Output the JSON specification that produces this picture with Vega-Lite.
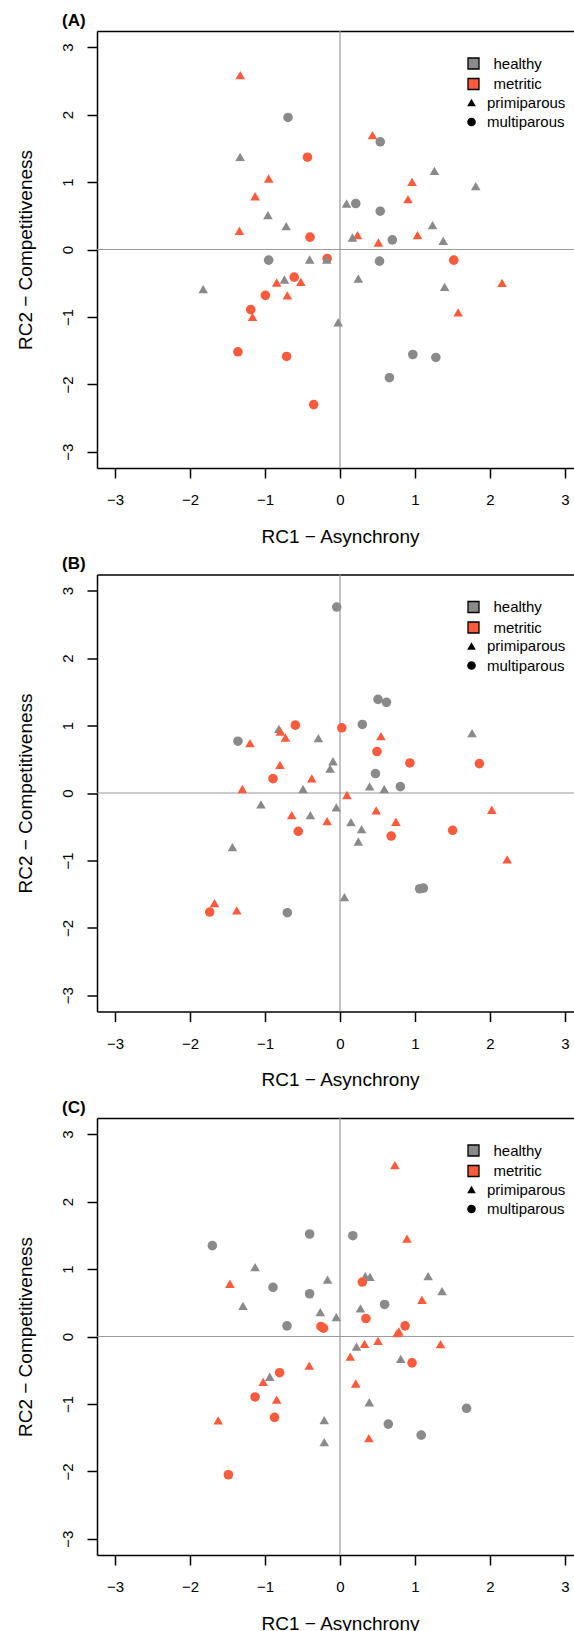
{
  "$schema": "https://vega.github.io/schema/vega-lite/v6.json",
  "background": "white",
  "padding": {"left": 16, "top": 11, "right": 0, "bottom": 0},
  "config": {
    "view": {"stroke": null},
    "font": "Liberation Sans",
    "axis": {"grid": false}
  },
  "datasets": {
    "pts": [
      {"panel":"A","rc1":-1.33,"rc2":2.585,"status":"metritic","parity":"primiparous"},
      {"panel":"A","rc1":0.434,"rc2":1.695,"status":"metritic","parity":"primiparous"},
      {"panel":"A","rc1":-0.951,"rc2":1.053,"status":"metritic","parity":"primiparous"},
      {"panel":"A","rc1":-1.132,"rc2":0.79,"status":"metritic","parity":"primiparous"},
      {"panel":"A","rc1":-1.341,"rc2":0.277,"status":"metritic","parity":"primiparous"},
      {"panel":"A","rc1":0.961,"rc2":1.003,"status":"metritic","parity":"primiparous"},
      {"panel":"A","rc1":0.907,"rc2":0.746,"status":"metritic","parity":"primiparous"},
      {"panel":"A","rc1":0.234,"rc2":0.213,"status":"metritic","parity":"primiparous"},
      {"panel":"A","rc1":0.512,"rc2":0.104,"status":"metritic","parity":"primiparous"},
      {"panel":"A","rc1":1.034,"rc2":0.213,"status":"metritic","parity":"primiparous"},
      {"panel":"A","rc1":-0.844,"rc2":-0.489,"status":"metritic","parity":"primiparous"},
      {"panel":"A","rc1":-0.522,"rc2":-0.48,"status":"metritic","parity":"primiparous"},
      {"panel":"A","rc1":-0.702,"rc2":-0.68,"status":"metritic","parity":"primiparous"},
      {"panel":"A","rc1":2.161,"rc2":-0.494,"status":"metritic","parity":"primiparous"},
      {"panel":"A","rc1":-1.166,"rc2":-1.0,"status":"metritic","parity":"primiparous"},
      {"panel":"A","rc1":1.576,"rc2":-0.931,"status":"metritic","parity":"primiparous"},
      {"panel":"A","rc1":-0.434,"rc2":1.369,"status":"metritic","parity":"multiparous"},
      {"panel":"A","rc1":-0.4,"rc2":0.183,"status":"metritic","parity":"multiparous"},
      {"panel":"A","rc1":-0.171,"rc2":-0.133,"status":"metritic","parity":"multiparous"},
      {"panel":"A","rc1":-0.61,"rc2":-0.41,"status":"metritic","parity":"multiparous"},
      {"panel":"A","rc1":-0.995,"rc2":-0.68,"status":"metritic","parity":"multiparous"},
      {"panel":"A","rc1":1.517,"rc2":-0.158,"status":"metritic","parity":"multiparous"},
      {"panel":"A","rc1":-1.19,"rc2":-0.892,"status":"metritic","parity":"multiparous"},
      {"panel":"A","rc1":-1.361,"rc2":-1.517,"status":"metritic","parity":"multiparous"},
      {"panel":"A","rc1":-0.712,"rc2":-1.586,"status":"metritic","parity":"multiparous"},
      {"panel":"A","rc1":-0.351,"rc2":-2.3,"status":"metritic","parity":"multiparous"},
      {"panel":"A","rc1":-1.332,"rc2":1.374,"status":"healthy","parity":"primiparous"},
      {"panel":"A","rc1":-0.961,"rc2":0.509,"status":"healthy","parity":"primiparous"},
      {"panel":"A","rc1":-0.717,"rc2":0.346,"status":"healthy","parity":"primiparous"},
      {"panel":"A","rc1":0.088,"rc2":0.682,"status":"healthy","parity":"primiparous"},
      {"panel":"A","rc1":0.166,"rc2":0.178,"status":"healthy","parity":"primiparous"},
      {"panel":"A","rc1":1.259,"rc2":1.167,"status":"healthy","parity":"primiparous"},
      {"panel":"A","rc1":1.81,"rc2":0.939,"status":"healthy","parity":"primiparous"},
      {"panel":"A","rc1":1.234,"rc2":0.361,"status":"healthy","parity":"primiparous"},
      {"panel":"A","rc1":1.376,"rc2":0.129,"status":"healthy","parity":"primiparous"},
      {"panel":"A","rc1":-0.405,"rc2":-0.148,"status":"healthy","parity":"primiparous"},
      {"panel":"A","rc1":-0.176,"rc2":-0.148,"status":"healthy","parity":"primiparous"},
      {"panel":"A","rc1":-0.741,"rc2":-0.445,"status":"healthy","parity":"primiparous"},
      {"panel":"A","rc1":0.244,"rc2":-0.43,"status":"healthy","parity":"primiparous"},
      {"panel":"A","rc1":-1.824,"rc2":-0.588,"status":"healthy","parity":"primiparous"},
      {"panel":"A","rc1":1.395,"rc2":-0.554,"status":"healthy","parity":"primiparous"},
      {"panel":"A","rc1":-0.024,"rc2":-1.079,"status":"healthy","parity":"primiparous"},
      {"panel":"A","rc1":-0.693,"rc2":1.958,"status":"healthy","parity":"multiparous"},
      {"panel":"A","rc1":0.537,"rc2":1.597,"status":"healthy","parity":"multiparous"},
      {"panel":"A","rc1":0.21,"rc2":0.682,"status":"healthy","parity":"multiparous"},
      {"panel":"A","rc1":0.537,"rc2":0.568,"status":"healthy","parity":"multiparous"},
      {"panel":"A","rc1":0.698,"rc2":0.143,"status":"healthy","parity":"multiparous"},
      {"panel":"A","rc1":-0.951,"rc2":-0.158,"status":"healthy","parity":"multiparous"},
      {"panel":"A","rc1":0.527,"rc2":-0.173,"status":"healthy","parity":"multiparous"},
      {"panel":"A","rc1":0.971,"rc2":-1.557,"status":"healthy","parity":"multiparous"},
      {"panel":"A","rc1":1.278,"rc2":-1.601,"status":"healthy","parity":"multiparous"},
      {"panel":"A","rc1":0.659,"rc2":-1.901,"status":"healthy","parity":"multiparous"},

      {"panel":"B","rc1":-0.044,"rc2":2.757,"status":"healthy","parity":"multiparous"},
      {"panel":"B","rc1":0.507,"rc2":1.388,"status":"healthy","parity":"multiparous"},
      {"panel":"B","rc1":0.62,"rc2":1.344,"status":"healthy","parity":"multiparous"},
      {"panel":"B","rc1":0.298,"rc2":1.016,"status":"healthy","parity":"multiparous"},
      {"panel":"B","rc1":-1.361,"rc2":0.768,"status":"healthy","parity":"multiparous"},
      {"panel":"B","rc1":0.473,"rc2":0.288,"status":"healthy","parity":"multiparous"},
      {"panel":"B","rc1":0.805,"rc2":0.094,"status":"healthy","parity":"multiparous"},
      {"panel":"B","rc1":-0.702,"rc2":-1.775,"status":"healthy","parity":"multiparous"},
      {"panel":"B","rc1":1.063,"rc2":-1.42,"status":"healthy","parity":"multiparous"},
      {"panel":"B","rc1":1.112,"rc2":-1.41,"status":"healthy","parity":"multiparous"},
      {"panel":"B","rc1":-0.815,"rc2":0.952,"status":"healthy","parity":"primiparous"},
      {"panel":"B","rc1":-0.288,"rc2":0.813,"status":"healthy","parity":"primiparous"},
      {"panel":"B","rc1":-0.093,"rc2":0.471,"status":"healthy","parity":"primiparous"},
      {"panel":"B","rc1":-0.132,"rc2":0.362,"status":"healthy","parity":"primiparous"},
      {"panel":"B","rc1":-0.493,"rc2":0.059,"status":"healthy","parity":"primiparous"},
      {"panel":"B","rc1":0.395,"rc2":0.099,"status":"healthy","parity":"primiparous"},
      {"panel":"B","rc1":0.59,"rc2":0.059,"status":"healthy","parity":"primiparous"},
      {"panel":"B","rc1":1.761,"rc2":0.887,"status":"healthy","parity":"primiparous"},
      {"panel":"B","rc1":-1.054,"rc2":-0.169,"status":"healthy","parity":"primiparous"},
      {"panel":"B","rc1":-0.049,"rc2":-0.213,"status":"healthy","parity":"primiparous"},
      {"panel":"B","rc1":-0.395,"rc2":-0.327,"status":"healthy","parity":"primiparous"},
      {"panel":"B","rc1":0.146,"rc2":-0.431,"status":"healthy","parity":"primiparous"},
      {"panel":"B","rc1":0.288,"rc2":-0.535,"status":"healthy","parity":"primiparous"},
      {"panel":"B","rc1":0.244,"rc2":-0.719,"status":"healthy","parity":"primiparous"},
      {"panel":"B","rc1":-1.434,"rc2":-0.802,"status":"healthy","parity":"primiparous"},
      {"panel":"B","rc1":0.059,"rc2":-1.543,"status":"healthy","parity":"primiparous"},
      {"panel":"B","rc1":-0.595,"rc2":1.006,"status":"metritic","parity":"multiparous"},
      {"panel":"B","rc1":0.024,"rc2":0.967,"status":"metritic","parity":"multiparous"},
      {"panel":"B","rc1":0.493,"rc2":0.615,"status":"metritic","parity":"multiparous"},
      {"panel":"B","rc1":0.932,"rc2":0.446,"status":"metritic","parity":"multiparous"},
      {"panel":"B","rc1":1.859,"rc2":0.436,"status":"metritic","parity":"multiparous"},
      {"panel":"B","rc1":-0.893,"rc2":0.213,"status":"metritic","parity":"multiparous"},
      {"panel":"B","rc1":-0.556,"rc2":-0.568,"status":"metritic","parity":"multiparous"},
      {"panel":"B","rc1":0.683,"rc2":-0.638,"status":"metritic","parity":"multiparous"},
      {"panel":"B","rc1":1.502,"rc2":-0.553,"status":"metritic","parity":"multiparous"},
      {"panel":"B","rc1":-1.737,"rc2":-1.765,"status":"metritic","parity":"multiparous"},
      {"panel":"B","rc1":-0.795,"rc2":0.912,"status":"metritic","parity":"primiparous"},
      {"panel":"B","rc1":-0.727,"rc2":0.823,"status":"metritic","parity":"primiparous"},
      {"panel":"B","rc1":-1.2,"rc2":0.739,"status":"metritic","parity":"primiparous"},
      {"panel":"B","rc1":0.546,"rc2":0.843,"status":"metritic","parity":"primiparous"},
      {"panel":"B","rc1":-0.8,"rc2":0.416,"status":"metritic","parity":"primiparous"},
      {"panel":"B","rc1":-0.376,"rc2":0.218,"status":"metritic","parity":"primiparous"},
      {"panel":"B","rc1":-1.302,"rc2":0.059,"status":"metritic","parity":"primiparous"},
      {"panel":"B","rc1":0.093,"rc2":-0.03,"status":"metritic","parity":"primiparous"},
      {"panel":"B","rc1":-0.644,"rc2":-0.327,"status":"metritic","parity":"primiparous"},
      {"panel":"B","rc1":-0.171,"rc2":-0.416,"status":"metritic","parity":"primiparous"},
      {"panel":"B","rc1":0.483,"rc2":-0.258,"status":"metritic","parity":"primiparous"},
      {"panel":"B","rc1":0.746,"rc2":-0.426,"status":"metritic","parity":"primiparous"},
      {"panel":"B","rc1":2.024,"rc2":-0.248,"status":"metritic","parity":"primiparous"},
      {"panel":"B","rc1":2.229,"rc2":-0.985,"status":"metritic","parity":"primiparous"},
      {"panel":"B","rc1":-1.673,"rc2":-1.632,"status":"metritic","parity":"primiparous"},
      {"panel":"B","rc1":-1.376,"rc2":-1.741,"status":"metritic","parity":"primiparous"},

      {"panel":"C","rc1":-1.702,"rc2":1.347,"status":"healthy","parity":"multiparous"},
      {"panel":"C","rc1":-0.405,"rc2":1.52,"status":"healthy","parity":"multiparous"},
      {"panel":"C","rc1":0.171,"rc2":1.495,"status":"healthy","parity":"multiparous"},
      {"panel":"C","rc1":-0.893,"rc2":0.728,"status":"healthy","parity":"multiparous"},
      {"panel":"C","rc1":-0.405,"rc2":0.634,"status":"healthy","parity":"multiparous"},
      {"panel":"C","rc1":0.595,"rc2":0.475,"status":"healthy","parity":"multiparous"},
      {"panel":"C","rc1":-0.707,"rc2":0.158,"status":"healthy","parity":"multiparous"},
      {"panel":"C","rc1":1.688,"rc2":-1.065,"status":"healthy","parity":"multiparous"},
      {"panel":"C","rc1":0.644,"rc2":-1.299,"status":"healthy","parity":"multiparous"},
      {"panel":"C","rc1":1.083,"rc2":-1.463,"status":"healthy","parity":"multiparous"},
      {"panel":"C","rc1":-1.132,"rc2":1.03,"status":"healthy","parity":"primiparous"},
      {"panel":"C","rc1":-0.166,"rc2":0.842,"status":"healthy","parity":"primiparous"},
      {"panel":"C","rc1":0.337,"rc2":0.896,"status":"healthy","parity":"primiparous"},
      {"panel":"C","rc1":0.4,"rc2":0.886,"status":"healthy","parity":"primiparous"},
      {"panel":"C","rc1":1.176,"rc2":0.896,"status":"healthy","parity":"primiparous"},
      {"panel":"C","rc1":1.361,"rc2":0.673,"status":"healthy","parity":"primiparous"},
      {"panel":"C","rc1":-1.293,"rc2":0.455,"status":"healthy","parity":"primiparous"},
      {"panel":"C","rc1":-0.263,"rc2":0.361,"status":"healthy","parity":"primiparous"},
      {"panel":"C","rc1":-0.049,"rc2":0.287,"status":"healthy","parity":"primiparous"},
      {"panel":"C","rc1":0.273,"rc2":0.416,"status":"healthy","parity":"primiparous"},
      {"panel":"C","rc1":0.22,"rc2":-0.149,"status":"healthy","parity":"primiparous"},
      {"panel":"C","rc1":0.81,"rc2":-0.332,"status":"healthy","parity":"primiparous"},
      {"panel":"C","rc1":-0.937,"rc2":-0.597,"status":"healthy","parity":"primiparous"},
      {"panel":"C","rc1":0.39,"rc2":-0.975,"status":"healthy","parity":"primiparous"},
      {"panel":"C","rc1":-0.21,"rc2":-1.239,"status":"healthy","parity":"primiparous"},
      {"panel":"C","rc1":-0.21,"rc2":-1.567,"status":"healthy","parity":"primiparous"},
      {"panel":"C","rc1":0.298,"rc2":0.807,"status":"metritic","parity":"multiparous"},
      {"panel":"C","rc1":0.346,"rc2":0.267,"status":"metritic","parity":"multiparous"},
      {"panel":"C","rc1":-0.254,"rc2":0.149,"status":"metritic","parity":"multiparous"},
      {"panel":"C","rc1":-0.22,"rc2":0.124,"status":"metritic","parity":"multiparous"},
      {"panel":"C","rc1":0.868,"rc2":0.158,"status":"metritic","parity":"multiparous"},
      {"panel":"C","rc1":0.961,"rc2":-0.391,"status":"metritic","parity":"multiparous"},
      {"panel":"C","rc1":-0.805,"rc2":-0.537,"status":"metritic","parity":"multiparous"},
      {"panel":"C","rc1":-1.132,"rc2":-0.896,"status":"metritic","parity":"multiparous"},
      {"panel":"C","rc1":-0.873,"rc2":-1.199,"status":"metritic","parity":"multiparous"},
      {"panel":"C","rc1":-1.488,"rc2":-2.05,"status":"metritic","parity":"multiparous"},
      {"panel":"C","rc1":0.732,"rc2":2.54,"status":"metritic","parity":"primiparous"},
      {"panel":"C","rc1":0.893,"rc2":1.45,"status":"metritic","parity":"primiparous"},
      {"panel":"C","rc1":-1.468,"rc2":0.782,"status":"metritic","parity":"primiparous"},
      {"panel":"C","rc1":1.093,"rc2":0.545,"status":"metritic","parity":"primiparous"},
      {"panel":"C","rc1":0.785,"rc2":0.074,"status":"metritic","parity":"primiparous"},
      {"panel":"C","rc1":0.761,"rc2":0.05,"status":"metritic","parity":"primiparous"},
      {"panel":"C","rc1":0.327,"rc2":-0.109,"status":"metritic","parity":"primiparous"},
      {"panel":"C","rc1":0.507,"rc2":-0.064,"status":"metritic","parity":"primiparous"},
      {"panel":"C","rc1":1.341,"rc2":-0.114,"status":"metritic","parity":"primiparous"},
      {"panel":"C","rc1":0.137,"rc2":-0.297,"status":"metritic","parity":"primiparous"},
      {"panel":"C","rc1":-0.41,"rc2":-0.431,"status":"metritic","parity":"primiparous"},
      {"panel":"C","rc1":0.21,"rc2":-0.697,"status":"metritic","parity":"primiparous"},
      {"panel":"C","rc1":-1.024,"rc2":-0.672,"status":"metritic","parity":"primiparous"},
      {"panel":"C","rc1":-0.844,"rc2":-0.935,"status":"metritic","parity":"primiparous"},
      {"panel":"C","rc1":-1.624,"rc2":-1.244,"status":"metritic","parity":"primiparous"},
      {"panel":"C","rc1":0.385,"rc2":-1.507,"status":"metritic","parity":"primiparous"}
    ],
    "one": [{"ref": 0}]
  },
  "bounds": "flush",
  "spacing": 106.5,
  "resolve": {
    "scale": {"x": "independent", "y": "independent", "color": "independent", "shape": "independent"},
    "axis": {"x": "independent", "y": "independent"},
    "legend": {"color": "independent", "shape": "independent"}
  },
  "vconcat": [
    {
      "title": {"text": "(A)", "anchor": "start", "frame": "group", "dx": -35, "dy": 18, "offset": 5.5, "baseline": "alphabetic", "fontSize": 17, "fontWeight": "bold", "font": "Liberation Sans", "color": "black"},
      "width": 479, "height": 437,
      "resolve": {"axis": {"x": "independent"}},
      "layer": [
        {
          "data": {"name": "one"},
          "mark": {"type": "rule", "color": "#9a9a9a", "strokeWidth": 1.2},
          "encoding": {"x": {"datum": 0, "type": "quantitative", "scale": {"domain": [-3.24, 3.147], "nice": false, "zero": false},
            "axis": {"orient": "top", "labels": false, "ticks": false, "tickSize": 0, "labelPadding": 0, "minExtent": 0, "maxExtent": 0, "offset": 0, "title": null, "domain": true, "domainColor": "black", "domainWidth": 1.5, "grid": false}}}
        },
        {
          "data": {"name": "one"},
          "mark": {"type": "rule", "color": "#9a9a9a", "strokeWidth": 1.2},
          "encoding": {"y": {"datum": 0, "type": "quantitative", "scale": {"domain": [-3.24, 3.24], "nice": false, "zero": false}}}
        },
        {
          "data": {"name": "pts"},
          "transform": [{"filter": "datum.panel === 'A'"}],
          "mark": {"type": "point", "filled": true, "size": 92, "opacity": 1},
          "encoding": {
            "x": {"field": "rc1", "type": "quantitative", "scale": {"domain": [-3.24, 3.147], "nice": false, "zero": false},
              "axis": {"orient": "bottom", "values": [-3, -2, -1, 0, 1, 2, 3], "format": "d", "tickSize": 10, "tickWidth": 1.5, "tickColor": "black", "domainColor": "black", "domainWidth": 1.5, "labelFont": "Liberation Sans", "labelFontSize": 15, "labelColor": "black", "labelPadding": 26.5, "labelBaseline": "alphabetic", "labelFlush": false, "labelOverlap": false, "grid": false, "title": "RC1 − Asynchrony", "titleFont": "Liberation Sans", "titleFontSize": 19, "titleFontWeight": "normal", "titleColor": "black", "titleX": 243, "titleY": 74, "titleBaseline": "alphabetic", "titleAlign": "center"}},
            "y": {"field": "rc2", "type": "quantitative", "scale": {"domain": [-3.24, 3.24], "nice": false, "zero": false},
              "axis": {"orient": "left", "values": [-3, -2, -1, 0, 1, 2, 3], "format": "d", "tickSize": 10, "tickWidth": 1.5, "tickColor": "black", "domainColor": "black", "domainWidth": 1.5, "labelFont": "Liberation Sans", "labelFontSize": 15, "labelColor": "black", "labelAngle": 270, "labelAlign": "center", "labelBaseline": "alphabetic", "labelPadding": 15, "labelOverlap": false, "labelFlush": false, "grid": false, "title": "RC2 − Competitiveness", "titleFont": "Liberation Sans", "titleFontSize": 19, "titleFontWeight": "normal", "titleColor": "black", "titleAngle": 270, "titleX": -65.5, "titleY": 218.5, "titleAlign": "center", "titleBaseline": "alphabetic"}},
            "color": {"field": "status", "type": "nominal", "scale": {"domain": ["healthy", "metritic"], "range": ["#8a8a8a", "#fa5b3d"]},
              "legend": {"orient": "none", "legendX": 369, "legendY": 25, "title": null, "padding": 0, "symbolType": "square", "symbolSize": 121, "symbolStrokeColor": "black", "symbolStrokeWidth": 1.3, "labelFont": "Liberation Sans", "labelFontSize": 15, "labelColor": "black", "labelOffset": 12.5, "rowPadding": 3.5,
                "encode": {"symbols": {"update": {"stroke": {"value": "black"}, "strokeWidth": {"value": 1.3}, "shape": {"value": "square"}}}}}},
            "shape": {"field": "parity", "type": "nominal", "scale": {"domain": ["primiparous", "multiparous"], "range": ["triangle-up", "circle"]},
              "legend": {"orient": "none", "legendX": 367, "legendY": 64, "title": null, "padding": 0, "symbolSize": 75, "symbolFillColor": "black", "symbolStrokeWidth": 0, "labelFont": "Liberation Sans", "labelFontSize": 15, "labelColor": "black", "labelOffset": 8, "rowPadding": 3.5,
                "encode": {"symbols": {"update": {"fill": {"value": "black"}, "strokeWidth": {"value": 0}}}}}}
          }
        }
      ]
    },
    {
      "title": {"text": "(B)", "anchor": "start", "frame": "group", "dx": -35, "dy": 18, "offset": 5.5, "baseline": "alphabetic", "fontSize": 17, "fontWeight": "bold", "font": "Liberation Sans", "color": "black"},
      "width": 479, "height": 437,
      "resolve": {"axis": {"x": "independent"}},
      "layer": [
        {
          "data": {"name": "one"},
          "mark": {"type": "rule", "color": "#9a9a9a", "strokeWidth": 1.2},
          "encoding": {"x": {"datum": 0, "type": "quantitative", "scale": {"domain": [-3.24, 3.147], "nice": false, "zero": false},
            "axis": {"orient": "top", "labels": false, "ticks": false, "tickSize": 0, "labelPadding": 0, "minExtent": 0, "maxExtent": 0, "offset": 0, "title": null, "domain": true, "domainColor": "black", "domainWidth": 1.5, "grid": false}}}
        },
        {
          "data": {"name": "one"},
          "mark": {"type": "rule", "color": "#9a9a9a", "strokeWidth": 1.2},
          "encoding": {"y": {"datum": 0, "type": "quantitative", "scale": {"domain": [-3.24, 3.24], "nice": false, "zero": false}}}
        },
        {
          "data": {"name": "pts"},
          "transform": [{"filter": "datum.panel === 'B'"}],
          "mark": {"type": "point", "filled": true, "size": 92, "opacity": 1},
          "encoding": {
            "x": {"field": "rc1", "type": "quantitative", "scale": {"domain": [-3.24, 3.147], "nice": false, "zero": false},
              "axis": {"orient": "bottom", "values": [-3, -2, -1, 0, 1, 2, 3], "format": "d", "tickSize": 10, "tickWidth": 1.5, "tickColor": "black", "domainColor": "black", "domainWidth": 1.5, "labelFont": "Liberation Sans", "labelFontSize": 15, "labelColor": "black", "labelPadding": 26.5, "labelBaseline": "alphabetic", "labelFlush": false, "labelOverlap": false, "grid": false, "title": "RC1 − Asynchrony", "titleFont": "Liberation Sans", "titleFontSize": 19, "titleFontWeight": "normal", "titleColor": "black", "titleX": 243, "titleY": 74, "titleBaseline": "alphabetic", "titleAlign": "center"}},
            "y": {"field": "rc2", "type": "quantitative", "scale": {"domain": [-3.24, 3.24], "nice": false, "zero": false},
              "axis": {"orient": "left", "values": [-3, -2, -1, 0, 1, 2, 3], "format": "d", "tickSize": 10, "tickWidth": 1.5, "tickColor": "black", "domainColor": "black", "domainWidth": 1.5, "labelFont": "Liberation Sans", "labelFontSize": 15, "labelColor": "black", "labelAngle": 270, "labelAlign": "center", "labelBaseline": "alphabetic", "labelPadding": 15, "labelOverlap": false, "labelFlush": false, "grid": false, "title": "RC2 − Competitiveness", "titleFont": "Liberation Sans", "titleFontSize": 19, "titleFontWeight": "normal", "titleColor": "black", "titleAngle": 270, "titleX": -65.5, "titleY": 218.5, "titleAlign": "center", "titleBaseline": "alphabetic"}},
            "color": {"field": "status", "type": "nominal", "scale": {"domain": ["healthy", "metritic"], "range": ["#8a8a8a", "#fa5b3d"]},
              "legend": {"orient": "none", "legendX": 369, "legendY": 25, "title": null, "padding": 0, "symbolType": "square", "symbolSize": 121, "symbolStrokeColor": "black", "symbolStrokeWidth": 1.3, "labelFont": "Liberation Sans", "labelFontSize": 15, "labelColor": "black", "labelOffset": 12.5, "rowPadding": 3.5,
                "encode": {"symbols": {"update": {"stroke": {"value": "black"}, "strokeWidth": {"value": 1.3}, "shape": {"value": "square"}}}}}},
            "shape": {"field": "parity", "type": "nominal", "scale": {"domain": ["primiparous", "multiparous"], "range": ["triangle-up", "circle"]},
              "legend": {"orient": "none", "legendX": 367, "legendY": 64, "title": null, "padding": 0, "symbolSize": 75, "symbolFillColor": "black", "symbolStrokeWidth": 0, "labelFont": "Liberation Sans", "labelFontSize": 15, "labelColor": "black", "labelOffset": 8, "rowPadding": 3.5,
                "encode": {"symbols": {"update": {"fill": {"value": "black"}, "strokeWidth": {"value": 0}}}}}}
          }
        }
      ]
    },
    {
      "title": {"text": "(C)", "anchor": "start", "frame": "group", "dx": -35, "dy": 18, "offset": 5.5, "baseline": "alphabetic", "fontSize": 17, "fontWeight": "bold", "font": "Liberation Sans", "color": "black"},
      "width": 479, "height": 437,
      "resolve": {"axis": {"x": "independent"}},
      "layer": [
        {
          "data": {"name": "one"},
          "mark": {"type": "rule", "color": "#9a9a9a", "strokeWidth": 1.2},
          "encoding": {"x": {"datum": 0, "type": "quantitative", "scale": {"domain": [-3.24, 3.147], "nice": false, "zero": false},
            "axis": {"orient": "top", "labels": false, "ticks": false, "tickSize": 0, "labelPadding": 0, "minExtent": 0, "maxExtent": 0, "offset": 0, "title": null, "domain": true, "domainColor": "black", "domainWidth": 1.5, "grid": false}}}
        },
        {
          "data": {"name": "one"},
          "mark": {"type": "rule", "color": "#9a9a9a", "strokeWidth": 1.2},
          "encoding": {"y": {"datum": 0, "type": "quantitative", "scale": {"domain": [-3.24, 3.24], "nice": false, "zero": false}}}
        },
        {
          "data": {"name": "pts"},
          "transform": [{"filter": "datum.panel === 'C'"}],
          "mark": {"type": "point", "filled": true, "size": 92, "opacity": 1},
          "encoding": {
            "x": {"field": "rc1", "type": "quantitative", "scale": {"domain": [-3.24, 3.147], "nice": false, "zero": false},
              "axis": {"orient": "bottom", "values": [-3, -2, -1, 0, 1, 2, 3], "format": "d", "tickSize": 10, "tickWidth": 1.5, "tickColor": "black", "domainColor": "black", "domainWidth": 1.5, "labelFont": "Liberation Sans", "labelFontSize": 15, "labelColor": "black", "labelPadding": 26.5, "labelBaseline": "alphabetic", "labelFlush": false, "labelOverlap": false, "grid": false, "title": "RC1 − Asynchrony", "titleFont": "Liberation Sans", "titleFontSize": 19, "titleFontWeight": "normal", "titleColor": "black", "titleX": 243, "titleY": 74, "titleBaseline": "alphabetic", "titleAlign": "center"}},
            "y": {"field": "rc2", "type": "quantitative", "scale": {"domain": [-3.24, 3.24], "nice": false, "zero": false},
              "axis": {"orient": "left", "values": [-3, -2, -1, 0, 1, 2, 3], "format": "d", "tickSize": 10, "tickWidth": 1.5, "tickColor": "black", "domainColor": "black", "domainWidth": 1.5, "labelFont": "Liberation Sans", "labelFontSize": 15, "labelColor": "black", "labelAngle": 270, "labelAlign": "center", "labelBaseline": "alphabetic", "labelPadding": 15, "labelOverlap": false, "labelFlush": false, "grid": false, "title": "RC2 − Competitiveness", "titleFont": "Liberation Sans", "titleFontSize": 19, "titleFontWeight": "normal", "titleColor": "black", "titleAngle": 270, "titleX": -65.5, "titleY": 218.5, "titleAlign": "center", "titleBaseline": "alphabetic"}},
            "color": {"field": "status", "type": "nominal", "scale": {"domain": ["healthy", "metritic"], "range": ["#8a8a8a", "#fa5b3d"]},
              "legend": {"orient": "none", "legendX": 369, "legendY": 25, "title": null, "padding": 0, "symbolType": "square", "symbolSize": 121, "symbolStrokeColor": "black", "symbolStrokeWidth": 1.3, "labelFont": "Liberation Sans", "labelFontSize": 15, "labelColor": "black", "labelOffset": 12.5, "rowPadding": 3.5,
                "encode": {"symbols": {"update": {"stroke": {"value": "black"}, "strokeWidth": {"value": 1.3}, "shape": {"value": "square"}}}}}},
            "shape": {"field": "parity", "type": "nominal", "scale": {"domain": ["primiparous", "multiparous"], "range": ["triangle-up", "circle"]},
              "legend": {"orient": "none", "legendX": 367, "legendY": 64, "title": null, "padding": 0, "symbolSize": 75, "symbolFillColor": "black", "symbolStrokeWidth": 0, "labelFont": "Liberation Sans", "labelFontSize": 15, "labelColor": "black", "labelOffset": 8, "rowPadding": 3.5,
                "encode": {"symbols": {"update": {"fill": {"value": "black"}, "strokeWidth": {"value": 0}}}}}}
          }
        }
      ]
    }
  ]
}
